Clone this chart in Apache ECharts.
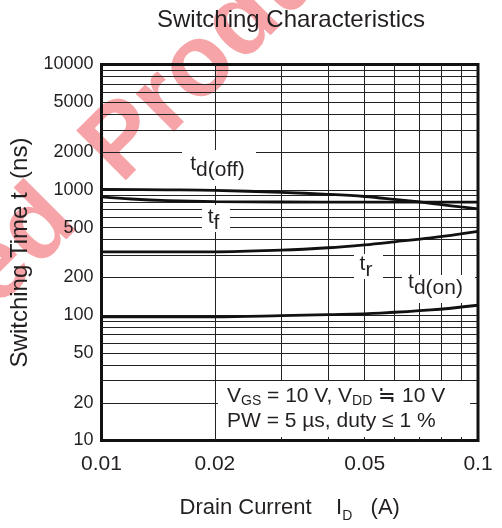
<!DOCTYPE html>
<html><head><meta charset="utf-8">
<script src="https://cdn.jsdelivr.net/npm/echarts@6/dist/echarts.min.js"></script>
<style>html,body{margin:0;padding:0;background:#fff}#c{width:502px;height:528px}</style>
</head><body><div id="c"></div>
<script>
const FONT = '"Liberation Sans", Arial, Helvetica, sans-serif';
const INK = '#231f20';

// tick labels and grid positions
const xTickLabels = [0.01, 0.02, 0.05, 0.1];
const yTickLabels = [10, 20, 50, 100, 200, 500, 1000, 2000, 5000, 10000];
const xGridValues = [0.02, 0.03, 0.04, 0.05, 0.06, 0.07, 0.08, 0.09];
const yGridValues = [20, 30, 40, 50, 60, 70, 80, 90, 100, 200, 300, 400, 500, 600, 700, 800, 900,
                     1000, 2000, 3000, 4000, 5000, 6000, 7000, 8000, 9000];

// series values: [I_D (A), t (ns)]
const tdOff = [[0.01, 1010], [0.015, 1000], [0.02, 990], [0.03, 955], [0.04, 920], [0.05, 885],
               [0.06, 840], [0.07, 800], [0.08, 762], [0.09, 730], [0.1, 705]];
const tfall = [[0.01, 880], [0.012, 845], [0.015, 820], [0.02, 805], [0.03, 800], [0.05, 798],
               [0.07, 797], [0.1, 797]];
const trise = [[0.01, 320], [0.02, 320], [0.03, 330], [0.04, 345], [0.05, 364], [0.06, 385],
               [0.075, 414], [0.1, 467]];
const tdOn = [[0.01, 97], [0.02, 97], [0.03, 99], [0.04, 101], [0.055, 104], [0.075, 110], [0.1, 120]];

const chart = echarts.init(document.getElementById('c'), null, {renderer: 'canvas'});

function curve(name, data) {
  return {
    type: 'line', name: name, data: data, smooth: 0.35, symbol: 'none', showSymbol: false,
    lineStyle: {color: '#111', width: 2.8}, z: 10, silent: true, animation: false
  };
}
function pick(list, v) {
  const m = list.find(t => Math.abs(t - v) / t < 1e-6);
  return m === undefined ? '' : String(m);
}

const subRich = {
  m: {fontSize: 21, lineHeight: 33, fontFamily: FONT, color: INK, fill: INK},
  s: {fontSize: 21, verticalAlign: 'bottom', fontFamily: FONT, color: INK, fill: INK}
};
const annRich = {
  m: {fontSize: 21, lineHeight: 25, fontFamily: FONT, color: INK, fill: INK},
  s: {fontSize: 14, verticalAlign: 'bottom', fontFamily: FONT, color: INK, fill: INK}
};

function box(x, y, w, h) {
  return {type: 'rect', z: 20, silent: true, shape: {x: x, y: y, width: w, height: h}, style: {fill: '#fff'}};
}
function label(x, y, text, rich, align) {
  return {
    type: 'text', z: 21, silent: true, x: x, y: y,
    style: {text: text, rich: rich, align: align || 'center', textAlign: align || 'center',
            verticalAlign: 'middle', textVerticalAlign: 'middle', fill: INK, font: '21px ' + FONT}
  };
}

const wmFont = 'bold 102px ' + FONT;
const wmRot = 45 * Math.PI / 180;
const wmStyle = {fill: 'rgba(234,38,46,0.42)', font: wmFont,
                 verticalAlign: 'middle', textVerticalAlign: 'middle'};

chart.setOption({
  animation: false,
  backgroundColor: '#fff',
  title: {
    text: 'Switching Characteristics', left: 291, top: 8.5, textAlign: 'center', padding: 0,
    textStyle: {fontSize: 24, lineHeight: 24, fontWeight: 'normal', color: INK, fontFamily: FONT}
  },
  grid: {left: 101.5, top: 64.5, width: 376.5, height: 377, show: true,
         borderColor: '#111', borderWidth: 3, backgroundColor: 'transparent'},
  xAxis: {
    type: 'log', logBase: 10, min: 0.01, max: 0.1,
    axisLine: {show: false}, axisTick: {show: false}, splitLine: {show: false},
    axisLabel: {customValues: xTickLabels, formatter: v => pick(xTickLabels, v),
                fontSize: 21, color: INK, margin: 13, fontFamily: FONT},
    name: '{m|Drain Current    I}{s|D}{m|   (A)}', nameLocation: 'middle', nameGap: 52.5,
    nameTextStyle: {fontFamily: FONT, color: INK, fontSize: 22,
      rich: {m: {fontSize: 22, lineHeight: 30, fontFamily: FONT, color: INK},
             s: {fontSize: 14, lineHeight: 14, verticalAlign: 'bottom', fontFamily: FONT, color: INK}}}
  },
  yAxis: {
    type: 'log', logBase: 10, min: 10, max: 10000,
    axisLine: {show: false}, axisTick: {show: false}, splitLine: {show: false},
    axisLabel: {customValues: yTickLabels, formatter: v => pick(yTickLabels, v),
                fontSize: 18, color: INK, margin: 8, fontFamily: FONT},
    name: 'Switching Time t  (ns)', nameLocation: 'middle', nameGap: 64,
    nameTextStyle: {fontFamily: FONT, color: INK, fontSize: 24}
  },
  series: [
    {
      type: 'line', data: [], z: 3, silent: true, symbol: 'none',
      markLine: {
        z: 3, silent: true, symbol: 'none', animation: false, label: {show: false},
        lineStyle: {color: '#222', width: 1, type: 'solid'},
        emphasis: {disabled: true},
        data: xGridValues.map(v => ({xAxis: v})).concat(yGridValues.map(v => ({yAxis: v})))
      }
    },
    curve('td(off)', tdOff),
    curve('tf', tfall),
    curve('tr', trise),
    curve('td(on)', tdOn)
  ],
  graphic: {elements: [
    {type: 'text', x: 101, y: 165, rotation: wmRot, z: -1, silent: true,
     style: Object.assign({text: 'Product', align: 'left', textAlign: 'left'}, wmStyle)},
    {type: 'text', x: 101, y: 165, rotation: wmRot, z: -1, silent: true,
     style: Object.assign({text: 'Discontinued  ', align: 'right', textAlign: 'right'}, wmStyle)},
    box(182, 150, 74, 36), label(217.5, 164.4, '{m|t}{s|d(off)}', subRich),
    box(202, 205, 28, 27), label(213.5, 217.7, '{m|t}{s|f}', subRich),
    box(354, 254, 29, 25), label(366, 264.4, '{m|t}{s|r}', subRich),
    box(402, 275, 73, 28), label(435.5, 282.7, '{m|t}{s|d(on)}', subRich),
    box(218, 381, 252, 56),
    label(227, 396, '{m|V}{s|GS}{m| = 10 V, V}{s|DD}{m| \u2252 10 V}', annRich, 'left'),
    label(227, 421, '{m|PW = 5 \u00b5s, duty \u2264 1 %}', annRich, 'left')
  ]}
});
</script>
</body></html>
